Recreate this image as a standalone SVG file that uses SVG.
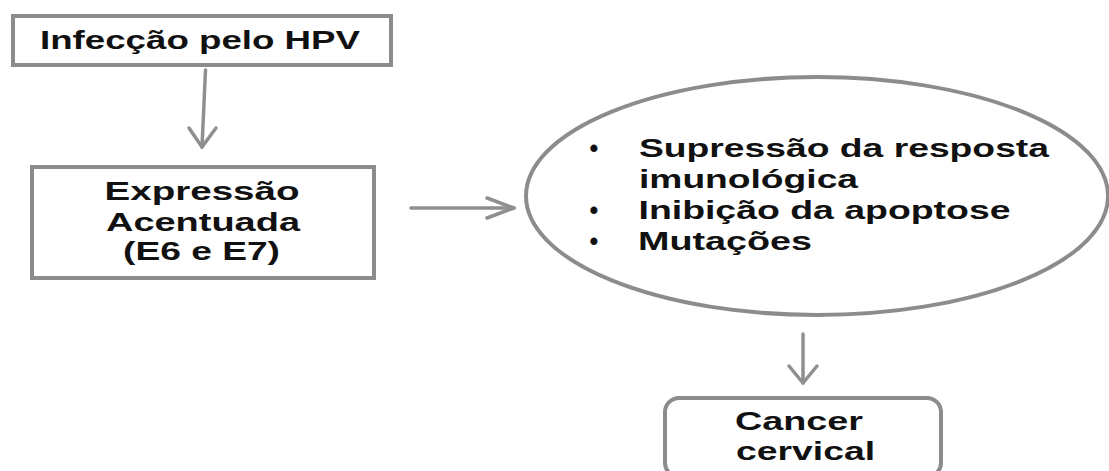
<svg xmlns="http://www.w3.org/2000/svg" width="1109" height="471" viewBox="0 0 1109 471">
<style>
.box{fill:#fff;stroke:#8c8c8c;stroke-width:4}
.t{font-family:"Liberation Sans",Arial,sans-serif;font-weight:bold;font-size:25px;fill:#111}
.c{fill:none;stroke:#8f8f8f;stroke-width:3.5;stroke-linecap:round;stroke-linejoin:round}
</style>
<rect width="1109" height="471" fill="#fff"/>
<g id="connectors">
<polyline class="c" points="205.5,70 202,147"/>
<polyline class="c" points="189,128 202,147 216,128"/>
<polyline class="c" points="411,208 514,208"/>
<polyline class="c" points="487,198 514,208 487,218"/>
<polyline class="c" points="803,334 803,383"/>
<polyline class="c" points="789,366 803,383 817,366"/>
</g>
<g id="n1">
<rect class="box" x="13" y="16" width="378" height="49"/>
<text class="t" x="40" y="48.5" textLength="320" lengthAdjust="spacingAndGlyphs">Infecção pelo HPV</text>
</g>
<g id="n2">
<rect class="box" x="32" y="167" width="342" height="111"/>
<text class="t" x="104.5" y="200" textLength="195" lengthAdjust="spacingAndGlyphs">Expressão</text>
<text class="t" x="106" y="231" textLength="194" lengthAdjust="spacingAndGlyphs">Acentuada</text>
<text class="t" x="123" y="260" textLength="157" lengthAdjust="spacingAndGlyphs">(E6 e E7)</text>
</g>
<g id="n3">
<ellipse class="box" cx="817" cy="196" rx="291" ry="119"/>
<text class="t" x="594" y="157" text-anchor="middle">•</text>
<text class="t" x="639" y="157" textLength="410" lengthAdjust="spacingAndGlyphs">Supressão da resposta</text>
<text class="t" x="639" y="188" textLength="219" lengthAdjust="spacingAndGlyphs">imunológica</text>
<text class="t" x="594" y="219" text-anchor="middle">•</text>
<text class="t" x="638.5" y="219" textLength="372" lengthAdjust="spacingAndGlyphs">Inibição da apoptose</text>
<text class="t" x="594" y="250" text-anchor="middle">•</text>
<text class="t" x="638" y="250" textLength="174" lengthAdjust="spacingAndGlyphs">Mutações</text>
</g>
<g id="n4">
<rect class="box" x="665" y="398" width="276" height="79" rx="14"/>
<text class="t" x="735" y="430" textLength="128" lengthAdjust="spacingAndGlyphs">Cancer</text>
<text class="t" x="736" y="460" textLength="139" lengthAdjust="spacingAndGlyphs">cervical</text>
</g>
</svg>
